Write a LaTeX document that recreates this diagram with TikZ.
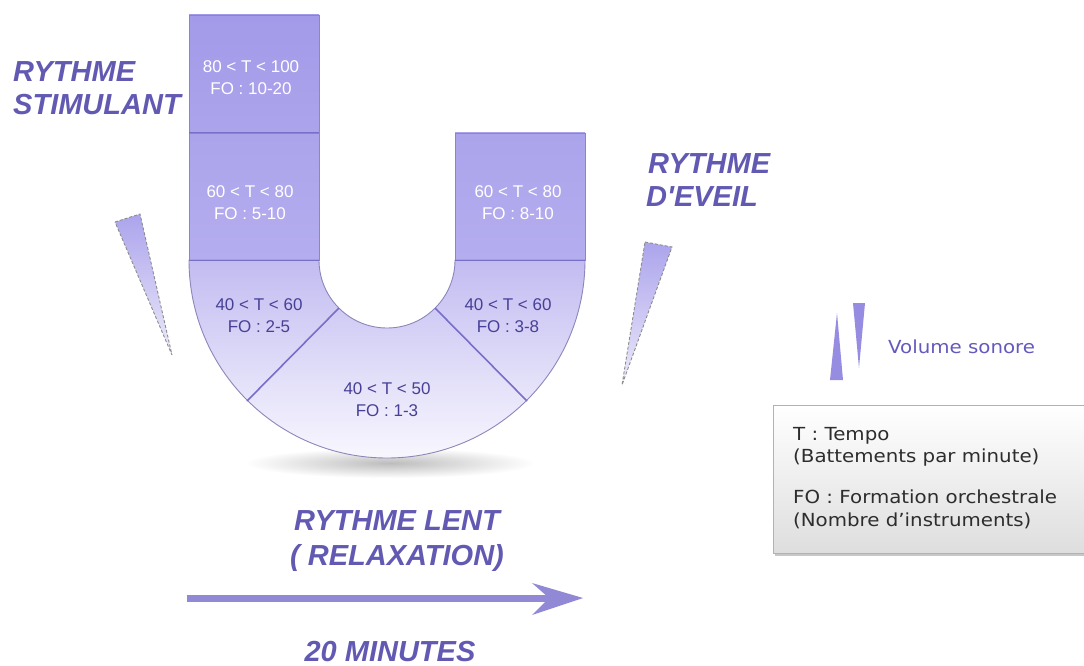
\documentclass[tikz,border=0pt]{standalone}
\usepackage{fontspec}
\setmainfont{Liberation Sans}
\newfontfamily\legfont[FakeStretch=1.1]{DejaVu Sans}
\definecolor{headc}{RGB}{98,90,178}
\definecolor{labc}{RGB}{72,64,150}
\definecolor{ubord}{RGB}{140,134,185}
\definecolor{udiv}{RGB}{120,110,200}
\definecolor{cA}{RGB}{163,154,233}
\definecolor{cB}{RGB}{172,164,235}
\definecolor{cC}{RGB}{180,173,238}
\definecolor{cD}{RGB}{194,188,241}
\definecolor{cE}{RGB}{248,247,254}
\definecolor{wedgeT}{RGB}{172,164,236}
\definecolor{wedgeB}{RGB}{236,234,250}
\definecolor{volc}{RGB}{150,140,226}
\definecolor{voltext}{RGB}{100,90,190}
\definecolor{arrowc}{RGB}{145,136,214}
\definecolor{legtextc}{RGB}{45,45,45}
\tikzset{
  head/.style={text=headc, inner sep=0pt, font=\fontsize{29}{33}\selectfont\bfseries\itshape},
  ulab/.style={inner sep=0pt, align=center, anchor=north, font=\fontsize{17}{22}\selectfont},
  ublock/.style={draw=ubord, line width=0.9pt},
  wedge/.style={draw=black!45, dash pattern=on 3pt off 2pt, line width=0.9pt, top color=wedgeT, bottom color=wedgeB},
  legtext/.style={inner sep=0pt, anchor=base west, text=legtextc, font=\legfont\fontsize{18}{22}\selectfont}
}
\begin{document}
\begin{tikzpicture}[x=1pt,y=-1pt]
\useasboundingbox (0,0) rectangle (1084,666);
\fill[white] (0,0) rectangle (1084,666);
% shadow under U
\shade[inner color=black!26, outer color=white] (390,463) ellipse [x radius=145, y radius=15];
% U blocks
\shade[ublock, top color=cA, bottom color=cB] (189,15) rectangle (319,133);
\shade[ublock, top color=cB, bottom color=cC] (189,133) rectangle (319,260);
\shade[ublock, top color=cB, bottom color=cC] (455,133) rectangle (585,260);
\shade[ublock, top color=cD, bottom color=cE] (189,260) -- (319,260) arc[start angle=180, end angle=0, radius=68] -- (585,260) arc[start angle=0, end angle=180, radius=198] -- cycle;
\draw[udiv, line width=1pt] (189,133) -- (319,133);
\draw[udiv, line width=1pt] (189,260) -- (319,260);
\draw[udiv, line width=1pt] (455,260) -- (585,260);
\draw[udiv, line width=1.6pt] (339,308) -- (247,401);
\draw[udiv, line width=1.6pt] (435,308) -- (527,401);
% U labels
\node[ulab, text=white] (l1) at (251,60) {80 < T < 100\\FO : 10-20};
\node[ulab, text=white] (l2) at (250,185) {60 < T < 80\\FO : 5-10};
\node[ulab, text=white] (r1) at (518,185) {60 < T < 80\\FO : 8-10};
\node[ulab, text=labc] (l3) at (259,298) {40 < T < 60\\FO : 2-5};
\node[ulab, text=labc] (r3) at (508,298) {40 < T < 60\\FO : 3-8};
\node[ulab, text=labc] (c1) at (387,382) {40 < T < 50\\FO : 1-3};
% headings
\node[head, anchor=base west] (stim1) at (13,82) {RYTHME};
\node[head, anchor=base west] (stim2) at (13,115) {STIMULANT};
\node[head, anchor=base west] (ev1) at (648,173) {RYTHME};
\node[head, anchor=base west] (ev2) at (646,206) {D\textquotesingle EVEIL};
\node[head, anchor=base] (lent1) at (397,530) {RYTHME LENT};
\node[head, anchor=base] (lent2) at (397,565) {( RELAXATION)};
\node[head, anchor=base] (min) at (390,661) {20 MINUTES};
% wedges
\shade[wedge] (115,222) -- (140,214) -- (172,355) -- cycle;
\shade[wedge] (645,242) -- (672,247) -- (622,385) -- cycle;
% arrow
\fill[arrowc] (187,594.5) rectangle (550,601.5);
\fill[arrowc] (532,583) -- (583,598) -- (532,615) -- (549,598) -- cycle;
% volume legend
\fill[volc] (837,313) -- (843,380) -- (830,380) -- cycle;
\fill[volc] (853,303) -- (865,303) -- (859,368) -- cycle;
\node[inner sep=0pt, anchor=base west, text=voltext, font=\legfont\fontsize{18}{22}\selectfont] (vol) at (888,353) {Volume sonore};
% legend box
\fill[black!22] (775,408) rectangle (1092,556);
\shade[top color=white, bottom color=black!13, draw=black!30, line width=0.8pt] (773,405) rectangle (1092,553);
\node[legtext] (t1) at (793,440) {T : Tempo};
\node[legtext] (t2) at (793,462) {(Battements par minute)};
\node[legtext] (t3) at (793,503) {FO : Formation orchestrale};
\node[legtext] (t4) at (793,526) {(Nombre d’instruments)};
\end{tikzpicture}
\end{document}
